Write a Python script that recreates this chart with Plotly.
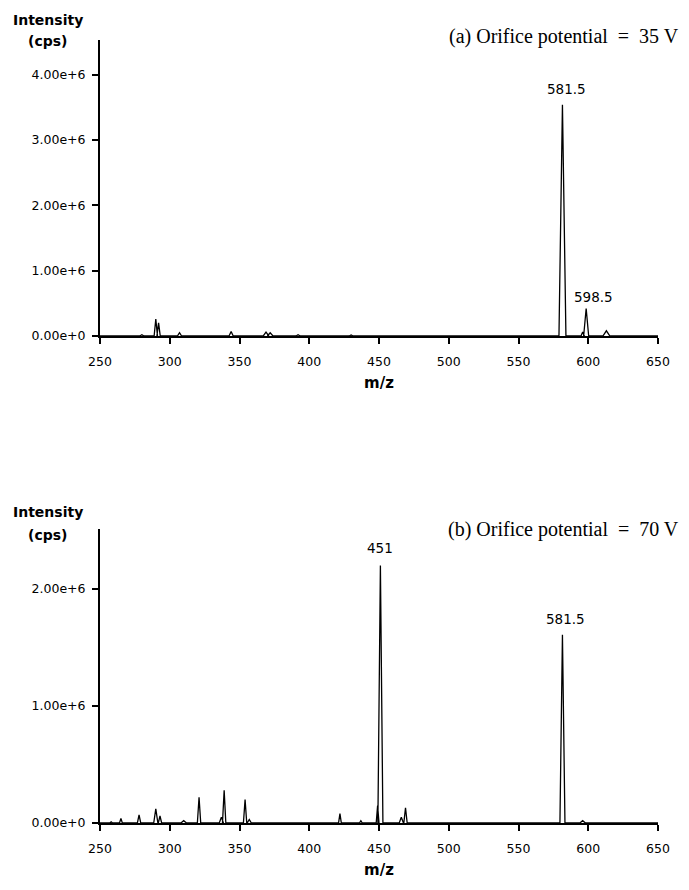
import plotly.graph_objects as go

# Panel (a): orifice potential 35 V -- peak list (m/z, intensity cps, half-width)
peaks_a_mz = [262, 280, 290, 292, 307, 344, 369, 372, 392, 430, 581.5, 596, 598.5, 613]
peaks_a_int = [0.01e6, 0.02e6, 0.26e6, 0.2e6, 0.05e6, 0.07e6, 0.06e6, 0.05e6, 0.02e6, 0.015e6,
               3.54e6, 0.06e6, 0.42e6, 0.08e6]
peaks_a_w = [1.5, 1.5, 1.2, 1.2, 1.5, 1.5, 2.0, 2.0, 1.5, 1.5, 2.5, 1.2, 1.8, 2.5]

# Panel (b): orifice potential 70 V
peaks_b_mz = [258, 265, 278, 290, 293, 310, 321, 337, 339, 354, 357, 422, 437, 449, 451,
              466, 469, 581.5, 596]
peaks_b_int = [0.01e6, 0.04e6, 0.07e6, 0.12e6, 0.06e6, 0.02e6, 0.22e6, 0.05e6, 0.28e6, 0.2e6,
               0.03e6, 0.08e6, 0.02e6, 0.15e6, 2.2e6, 0.05e6, 0.13e6, 1.61e6, 0.02e6]
peaks_b_w = [1.0, 1.0, 1.2, 1.5, 1.2, 2.0, 1.2, 1.5, 1.2, 1.2, 1.5, 1.0, 1.0, 1.0, 1.8,
             1.5, 1.2, 1.8, 2.0]

xticks = [250, 300, 350, 400, 450, 500, 550, 600, 650]
yticks_a = [0, 1e6, 2e6, 3e6, 4e6]
yticks_a_text = ["0.00e+0", "1.00e+6", "2.00e+6", "3.00e+6", "4.00e+6"]
yticks_b = [0, 1e6, 2e6]
yticks_b_text = ["0.00e+0", "1.00e+6", "2.00e+6"]

# The page body adds an 8px margin, so the figure is drawn 8px smaller and
# positions below are given in window pixels and converted.
OFF = 8
W, H = 689 - OFF, 890 - OFF


def px(X):
    return (X - OFF) / W


def py(Y):
    return 1 - (Y - OFF) / H


def build(mz, inten, w):
    xs, ys = [250], [0]
    for m, h, hw in sorted(zip(mz, inten, w)):
        xs += [m - hw, m, m + hw]
        ys += [0, h, 0]
    xs.append(650)
    ys.append(0)
    return xs, ys


xa, ya = build(peaks_a_mz, peaks_a_int, peaks_a_w)
xb, yb = build(peaks_b_mz, peaks_b_int, peaks_b_w)

fig = go.Figure()
fig.add_trace(go.Scatter(x=xa, y=ya, mode="lines", line=dict(color="black", width=1.3),
                         xaxis="x", yaxis="y", showlegend=False))
fig.add_trace(go.Scatter(x=xb, y=yb, mode="lines", line=dict(color="black", width=1.3),
                         xaxis="x2", yaxis="y2", showlegend=False))

SANS = "DejaVu Sans, Verdana, Arial"
tickfont = dict(family=SANS, size=12.5, color="black")
xcommon = dict(range=[250, 650], tickvals=xticks, showgrid=False, zeroline=False,
               showline=True, linecolor="black", linewidth=2, ticks="outside",
               ticklen=6, tickwidth=2, tickcolor="black", tickfont=tickfont,
               ticklabelstandoff=7,
               title=dict(text="m/z", font=dict(family=SANS, size=15,
                                                  color="black", weight="bold"), standoff=9))
ycommon = dict(showgrid=False, zeroline=False, showline=True, linecolor="black", linewidth=2,
               ticks="outside", ticklen=6, tickwidth=2, tickcolor="black", tickfont=tickfont,
               ticklabelstandoff=4)

fig.update_layout(
    width=W, height=H, margin=dict(l=0, r=0, t=0, b=0, autoexpand=False),
    paper_bgcolor="white", plot_bgcolor="white",
    xaxis=dict(domain=[px(100), px(658)], anchor="y", **xcommon),
    yaxis=dict(domain=[py(336), py(40)], anchor="x", range=[0, 4.53e6],
               tickvals=yticks_a, ticktext=yticks_a_text, **ycommon),
    xaxis2=dict(domain=[px(100), px(658)], anchor="y2", **xcommon),
    yaxis2=dict(domain=[py(823), py(529)], anchor="x2", range=[0, 2.513e6],
                tickvals=yticks_b, ticktext=yticks_b_text, **ycommon),
)

lab_font = dict(family=SANS, size=13.5, color="black")
serif = dict(family="Liberation Serif, Times New Roman", size=20, color="black")
ylab_font = dict(family=SANS, size=14, color="black", weight="bold")

title_a = "(a) Orifice potential\u2002=\u200235 V"
title_b = "(b) Orifice potential\u2002=\u200270 V"

anns = [
    dict(x=581.5, y=3.54e6, xref="x", yref="y", text="581.5", showarrow=False,
         yanchor="bottom", yshift=6, xshift=4, font=lab_font),
    dict(x=598.5, y=0.42e6, xref="x", yref="y", text="598.5", showarrow=False,
         yanchor="bottom", yshift=2, xshift=7, font=lab_font),
    dict(x=451, y=2.2e6, xref="x2", yref="y2", text="451", showarrow=False,
         yanchor="bottom", yshift=8, font=lab_font),
    dict(x=581.5, y=1.61e6, xref="x2", yref="y2", text="581.5", showarrow=False,
         yanchor="bottom", yshift=6, xshift=3, font=lab_font),
    dict(x=px(681), y=py(37), xref="paper", yref="paper", text=title_a,
         showarrow=False, xanchor="right", yanchor="middle", font=serif),
    dict(x=px(681), y=py(529), xref="paper", yref="paper", text=title_b,
         showarrow=False, xanchor="right", yanchor="middle", font=serif),
    dict(x=px(48), y=py(20), xref="paper", yref="paper", text="Intensity",
         showarrow=False, xanchor="center", yanchor="middle", font=ylab_font),
    dict(x=px(47), y=py(41), xref="paper", yref="paper", text="(cps)",
         showarrow=False, xanchor="center", yanchor="middle", font=ylab_font),
    dict(x=px(48), y=py(512), xref="paper", yref="paper", text="Intensity",
         showarrow=False, xanchor="center", yanchor="middle", font=ylab_font),
    dict(x=px(47), y=py(535), xref="paper", yref="paper", text="(cps)",
         showarrow=False, xanchor="center", yanchor="middle", font=ylab_font),
]
fig.update_layout(annotations=anns)

fig.write_html("out.html")
